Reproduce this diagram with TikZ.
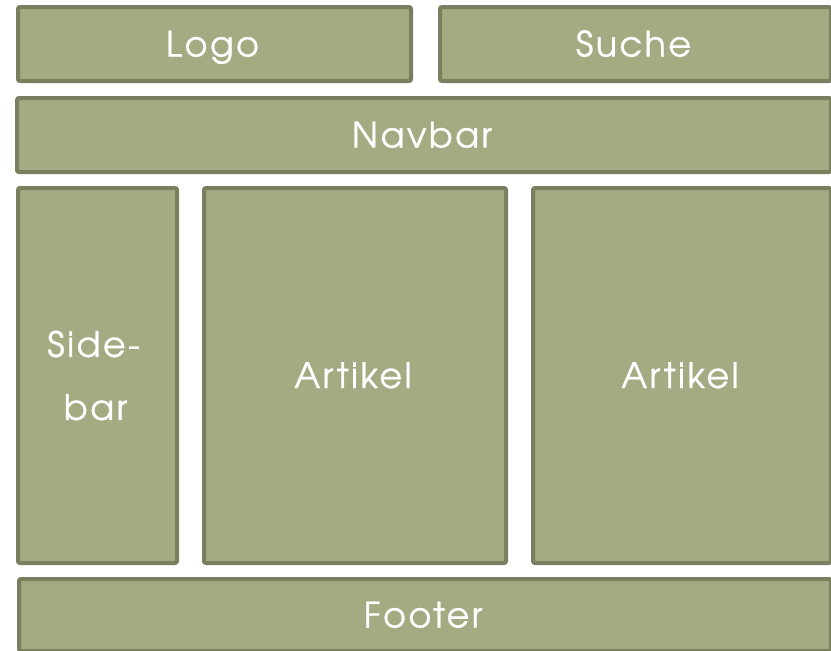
\documentclass[tikz,border=0pt]{standalone}
\usepackage{fontspec}
\setmainfont[LetterSpace=7, FakeBold=0.8]{texgyreadventor-regular.otf}
\usepackage{tikz}
\usetikzlibrary{positioning}
\definecolor{moosfill}{HTML}{A4AA81}
\definecolor{moosrand}{HTML}{7B7F5F}
\newcommand{\rest}{\kern4pt}
\tikzset{
    feld/.style={rectangle, rounded corners=2pt, draw=moosrand, fill=moosfill, line width=4pt, anchor=north west, align=center, text=white, font=\fontsize{35}{63}\selectfont, inner sep=0pt, execute at end node=\rest},
    zeile/.style={text height=25pt, text depth=0pt}
}

\begin{document}
\begin{tikzpicture}[x=1pt, y=-1pt]
  \useasboundingbox (0,0) rectangle (831,651);
  \node[feld, zeile, minimum width=393pt, minimum height=74pt] (logo) at (16,5) {Logo};
  \node[feld, zeile, minimum width=391pt, minimum height=74pt] (suche) at (438,5) {Suche};
  \node[feld, zeile, minimum width=814pt, minimum height=74pt] (navbar) at (15,96) {Navbar};
  \node[feld, minimum width=159pt, minimum height=375pt] (sidebar) at (16,186) {Side-\rest\\bar};
  \node[feld, zeile, minimum width=302pt, minimum height=375pt] (artikel1) at (202,186) {Artikel};
  \node[feld, zeile, minimum width=298pt, minimum height=375pt] (artikel2) at (531,186) {Artikel};
  \node[feld, zeile, minimum width=812pt, minimum height=72pt] (footer) at (17,577) {Footer};
\end{tikzpicture}
\end{document}
